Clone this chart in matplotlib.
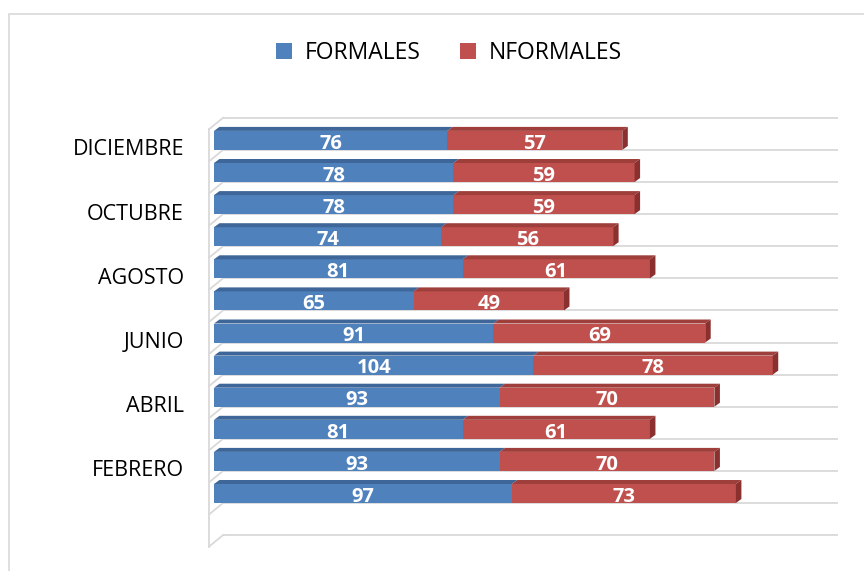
import matplotlib
matplotlib.use("Agg")
import matplotlib.pyplot as plt
from matplotlib.patches import Polygon, Rectangle, Patch
from matplotlib.transforms import ScaledTranslation

# Monthly counts, January first
meses = ["ENERO", "FEBRERO", "MARZO", "ABRIL", "MAYO", "JUNIO",
         "JULIO", "AGOSTO", "SEPTIEMBRE", "OCTUBRE", "NOVIEMBRE", "DICIEMBRE"]
formales = [97, 93, 81, 93, 104, 91, 65, 81, 74, 78, 78, 76]
nformales = [73, 70, 61, 70, 78, 69, 49, 61, 56, 59, 59, 57]
series_names = ["FORMALES", "NFORMALES"]

FRONT = ["#4F81BD", "#C0504D"]
TOP = ["#3E6698", "#9E3F3C"]
SIDE = ["#3A5F8E", "#8A302E"]
GRID = "#D9D9D9"

plt.rcParams["font.family"] = ["Open Sans", "DejaVu Sans"]

W, H = 864, 571
fig = plt.figure(figsize=(W / 100, H / 100), dpi=100)
fig.patch.set_facecolor("white")

# outer chart border
fig.add_artist(Rectangle((9 / W, (H - 600) / H), 900 / W, (600 - 14) / H,
                         transform=fig.transFigure, fill=False,
                         edgecolor=GRID, linewidth=1.2))

# plot area in pixels
ax_l, ax_r, ax_t, ax_b = 200, 840, 100, 555
ax = fig.add_axes([ax_l / W, (H - ax_b) / H, (ax_r - ax_l) / W, (ax_b - ax_t) / H])
ax.set_facecolor("none")

px_x = 3.07      # pixels per unit along x
px_y = 32.1      # pixels per category
x0_px = 214      # pixel of value 0
c0_px = 493.5    # pixel (from top) of first category centre
ax.set_xlim(-(x0_px - ax_l) / px_x, (ax_r - x0_px) / px_x)
ax.set_ylim((c0_px - ax_b) / px_y, (c0_px - ax_t) / px_y)

bar_h = 19 / px_y
dx = 5.5 / px_x
dy = 4 / px_y
n = len(meses)
ys = list(range(n))

# back wall / side wall gridlines
wall_x = -5 / px_x
grid_x0 = 9 / px_x
grid_x1 = (838 - x0_px) / px_x
diag = 11.5 / px_y
for k in range(-1, n + 1):
    gy = k - bar_h / 2
    ax.plot([grid_x0, grid_x1], [gy, gy], color=GRID, lw=1.3, zorder=1,
            solid_capstyle="butt")
    ax.plot([wall_x, grid_x0], [gy - diag, gy], color=GRID, lw=1.3, zorder=1)
ax.plot([wall_x, wall_x], [-1 - bar_h / 2 - diag, n - bar_h / 2 - diag],
        color=GRID, lw=1.3, zorder=1)

# stacked 3D-style bars
for s, vals in enumerate([formales, nformales]):
    lefts = [0] * n if s == 0 else formales
    ax.barh(ys, vals, left=lefts, height=bar_h, color=FRONT[s],
            edgecolor="none", zorder=3)
    for y, l, v in zip(ys, lefts, vals):
        r = l + v
        top = y + bar_h / 2
        ax.add_patch(Polygon([(l, top), (l + dx, top + dy), (r + dx, top + dy), (r, top)],
                             closed=True, facecolor=TOP[s], edgecolor="none", zorder=3))
        if s == 1:
            ax.add_patch(Polygon([(r, y - bar_h / 2), (r, top), (r + dx, top + dy),
                                  (r + dx, y - bar_h / 2 + dy)],
                                 closed=True, facecolor=SIDE[s], edgecolor="none", zorder=3))
        ax.text(l + v / 2, y - 0.1, str(v), ha="center", va="center",
                color="white", fontsize=14.5, fontweight="bold", zorder=5)

# category labels: every other month
ax.set_yticks(ys[1::2])
ax.set_yticklabels(meses[1::2], fontsize=15.5, color="#000000")
ax.tick_params(axis="y", length=0, pad=(ax_l - 184) * 72 / 100)
shift = ScaledTranslation(0, -7 / 100, fig.dpi_scale_trans)
for lab in ax.get_yticklabels():
    lab.set_transform(lab.get_transform() + shift)
ax.set_xticks([])
for sp in ax.spines.values():
    sp.set_visible(False)

handles = [Patch(facecolor=FRONT[0]), Patch(facecolor=FRONT[1])]
fig.legend(handles, series_names, loc="center", bbox_to_anchor=(449 / W, 1 - 53 / H),
           ncol=2, frameon=False, fontsize=16.5, handlelength=0.7, handleheight=0.7,
           handletextpad=0.55, columnspacing=1.7)

fig.savefig("out.png", dpi=100, facecolor="white")
